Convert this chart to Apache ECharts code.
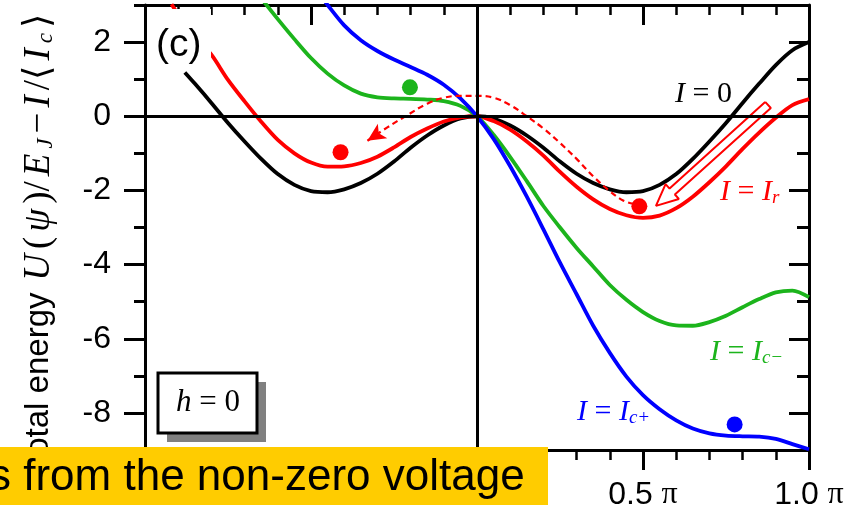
<!DOCTYPE html>
<html><head><meta charset="utf-8">
<script src="https://cdn.jsdelivr.net/npm/echarts@6.0.0/dist/echarts.min.js"></script>
<style>html,body{margin:0;padding:0;background:#fff}#c{width:866px;height:515px}</style>
</head><body><div id="c"></div>
<script>
// ---- data (phase in units of pi, energy in E_J units) ----
const blackPhase = [-0.88,-0.85,-0.80,-0.75,-0.70,-0.65,-0.60,-0.55,-0.50,-0.45,-0.40,-0.35,-0.30,-0.25,-0.20,-0.15,-0.10,-0.05,0,0.05,0.10,0.15,0.20,0.25,0.30,0.35,0.40,0.45,0.50,0.55,0.60,0.65,0.70,0.75,0.80,0.85,0.90,0.95,1.00];
const blackEnergy = [1.18,0.88,0.36,-0.18,-0.68,-1.15,-1.56,-1.85,-2.02,-2.05,-1.97,-1.80,-1.55,-1.22,-0.85,-0.52,-0.25,-0.06,0,-0.06,-0.25,-0.52,-0.85,-1.22,-1.55,-1.80,-1.97,-2.05,-2.02,-1.85,-1.56,-1.15,-0.68,-0.18,0.36,0.88,1.38,1.78,2.00];

const redPhase = [-0.92,-0.90,-0.85,-0.80,-0.75,-0.70,-0.65,-0.60,-0.55,-0.50,-0.45,-0.40,-0.35,-0.30,-0.25,-0.20,-0.15,-0.10,-0.05,0,0.05,0.10,0.15,0.20,0.25,0.30,0.35,0.40,0.45,0.50,0.55,0.60,0.65,0.70,0.75,0.80,0.85,0.90,0.95,1.00];
const redEnergy = [3.02,2.75,2.18,1.66,0.98,0.40,-0.15,-0.64,-1.00,-1.25,-1.36,-1.35,-1.26,-1.09,-0.84,-0.56,-0.33,-0.14,-0.03,0,-0.13,-0.36,-0.68,-1.06,-1.50,-1.90,-2.24,-2.50,-2.67,-2.74,-2.68,-2.48,-2.17,-1.78,-1.35,-0.88,-0.44,-0.04,0.30,0.46];

const greenPhase = [-0.65,-0.60,-0.55,-0.50,-0.45,-0.40,-0.35,-0.30,-0.25,-0.20,-0.15,-0.10,-0.05,0,0.05,0.10,0.15,0.20,0.25,0.30,0.35,0.40,0.45,0.50,0.55,0.60,0.65,0.70,0.75,0.80,0.85,0.90,0.95,1.00];
const greenEnergy = [3.18,2.62,2.08,1.57,1.15,0.83,0.61,0.51,0.48,0.47,0.45,0.41,0.28,0,-0.50,-1.10,-1.75,-2.42,-3.00,-3.55,-4.05,-4.55,-4.95,-5.28,-5.52,-5.64,-5.65,-5.55,-5.38,-5.15,-4.93,-4.75,-4.70,-4.88];

const bluePhase = [-0.47,-0.45,-0.40,-0.35,-0.30,-0.25,-0.20,-0.15,-0.10,-0.05,0,0.05,0.10,0.15,0.20,0.25,0.30,0.35,0.40,0.45,0.50,0.55,0.60,0.65,0.70,0.75,0.80,0.85,0.90,0.95,1.00];
const blueEnergy = [3.25,3.00,2.45,2.05,1.76,1.53,1.33,1.12,0.85,0.48,0,-0.61,-1.35,-2.17,-3.05,-3.95,-4.80,-5.65,-6.38,-7.02,-7.52,-7.90,-8.20,-8.42,-8.55,-8.61,-8.63,-8.64,-8.70,-8.84,-8.98];

// dashed escape path (red) and its arrow tip
const pathPhase = [-0.33,-0.27,-0.21,-0.15,-0.10,-0.05,0,0.05,0.10,0.15,0.20,0.25,0.30,0.35,0.40,0.44,0.47];
const pathEnergy = [-0.66,-0.30,0.03,0.34,0.50,0.55,0.55,0.50,0.30,0.00,-0.33,-0.72,-1.15,-1.62,-2.02,-2.27,-2.36];

// hollow arrow outline near the right well
const hollowPhase = [0.868,0.580,0.568,0.539,0.608,0.596,0.885,0.868];
const hollowEnergy = [0.386,-1.950,-1.831,-2.418,-2.230,-2.111,0.224,0.386];

// particle markers
const redDots = [[-0.411,-0.97],[0.489,-2.43]];
const greenDots = [[-0.202,0.78]];
const blueDots = [[0.776,-8.31]];

const xTickLabels = {'-1':'-1.0','-0.5':'-0.5','0':'0','0.5':'0.5','1':'1.0'};

const zip = (a,b) => a.map((v,i) => [v,b[i]]);
const SANS = '"Liberation Sans", Arial, sans-serif';
const SERIF = '"Liberation Serif", "DejaVu Serif", serif';
const RED = '#ff0000', GREEN = '#1cb41c', BLUE = '#0000ff';

function richSet(color, size, pad){
  const p = pad || 0;
  return {
    i:{fontFamily:SERIF, fontStyle:'italic', fontSize:size, color:color, fill:color, padding:[0,p]},
    n:{fontFamily:SERIF, fontSize:size, color:color, fill:color, padding:[0,p]},
    b:{fontFamily:SERIF, fontStyle:'italic', fontSize:Math.round(size*0.62), color:color, fill:color, verticalAlign:'bottom', padding:[0,p]},
    s:{fontFamily:SANS, fontSize:33, color:color, fill:color}
  };
}
function label(x, y, text, color){
  return {type:'text', x:x, y:y, z:60,
    style:{text:text, rich:richSet(color,30), fill:color, align:'left', textAlign:'left', verticalAlign:'middle', textVerticalAlign:'middle'}};
}

const lineBase = {type:'line', showSymbol:false, smooth:0.3, z:3, xAxisIndex:0, yAxisIndex:0};
const axisLineStyle = {show:true, onZero:false, lineStyle:{color:'#000', width:3}};
const noLine = {show:false, onZero:false};

const chart = echarts.init(document.getElementById('c'));
chart.setOption({
  animation:false,
  backgroundColor:'#fff',
  grid:{left:145, right:57, top:5, bottom:65},
  xAxis:[
    {type:'value', position:'bottom', min:-1, max:1, interval:0.5,
     axisLine:axisLineStyle,
     axisTick:{show:true, inside:false, length:20, lineStyle:{color:'#000', width:3}},
     minorTick:{show:true, splitNumber:5, length:10, lineStyle:{color:'#000', width:2.5}},
     splitLine:{show:false},
     axisLabel:{margin:29, formatter:v => { const t = xTickLabels[String(v)]; return t==='0' ? '{a|0}' : '{a|'+t+' }{p|π}'; },
       rich:{a:{fontFamily:SANS, fontSize:32, color:'#000'}, p:{fontFamily:SERIF, fontSize:32, color:'#000'}}}},
    {type:'value', position:'top', min:-1, max:1, interval:0.5,
     axisLine:axisLineStyle,
     axisTick:{show:true, inside:true, length:20, lineStyle:{color:'#000', width:3}},
     minorTick:{show:true, splitNumber:5, length:10, lineStyle:{color:'#000', width:2.5}},
     splitLine:{show:false}, axisLabel:{show:false}}
  ],
  yAxis:[
    {type:'value', position:'left', min:-9, max:3, splitNumber:6,
     axisLine:axisLineStyle,
     axisTick:{show:true, inside:false, length:21, lineStyle:{color:'#000', width:3}},
     splitLine:{show:false},
     axisLabel:{margin:34, showMinLabel:false, showMaxLabel:false, fontFamily:SANS, fontSize:32, color:'#000'}},
    {type:'value', position:'left', min:-9, max:3, interval:1,
     axisLine:noLine,
     axisTick:{show:true, inside:false, length:11, lineStyle:{color:'#000', width:3}},
     splitLine:{show:false}, axisLabel:{show:false}},
    {type:'value', position:'right', min:-9, max:3, splitNumber:6,
     axisLine:axisLineStyle,
     axisTick:{show:true, inside:true, length:20, lineStyle:{color:'#000', width:3}},
     splitLine:{show:false}, axisLabel:{show:false}},
    {type:'value', position:'right', min:-9, max:3, interval:1,
     axisLine:noLine,
     axisTick:{show:true, inside:true, length:12, lineStyle:{color:'#000', width:3}},
     splitLine:{show:false}, axisLabel:{show:false}}
  ],
  series:[
    {type:'line', data:[], z:1, silent:true,
     markLine:{silent:true, symbol:['none','none'], label:{show:false},
       lineStyle:{color:'#000', width:3, type:'solid'},
       data:[{yAxis:0},{xAxis:0}]}},
    Object.assign({}, lineBase, {name:'I=0', data:zip(blackPhase,blackEnergy), lineStyle:{color:'#000', width:3.8}, itemStyle:{color:'#000'}}),
    Object.assign({}, lineBase, {name:'I=Ir', data:zip(redPhase,redEnergy), lineStyle:{color:RED, width:3.8}, itemStyle:{color:RED}}),
    Object.assign({}, lineBase, {name:'I=Ic-', data:zip(greenPhase,greenEnergy), lineStyle:{color:GREEN, width:3.8}, itemStyle:{color:GREEN}}),
    Object.assign({}, lineBase, {name:'I=Ic+', data:zip(bluePhase,blueEnergy), lineStyle:{color:BLUE, width:3.8}, itemStyle:{color:BLUE}}),
    Object.assign({}, lineBase, {name:'escape', smooth:0.4, data:zip(pathPhase,pathEnergy), lineStyle:{color:RED, width:2.2, type:[6,4]}}),
    Object.assign({}, lineBase, {name:'hollow', smooth:false, data:zip(hollowPhase,hollowEnergy), lineStyle:{color:RED, width:2}}),
    {type:'scatter', z:4, data:[[pathPhase[0], pathEnergy[0]]], symbol:'arrow', symbolSize:[13,18], symbolRotate:123, itemStyle:{color:RED, opacity:1}},
    {type:'scatter', z:5, data:redDots, symbolSize:16, itemStyle:{color:RED, opacity:1}},
    {type:'scatter', z:5, data:greenDots, symbolSize:16, itemStyle:{color:GREEN, opacity:1}},
    {type:'scatter', z:5, data:blueDots, symbolSize:16, itemStyle:{color:BLUE, opacity:1}}
  ],
  graphic:[
    {type:'text', z:40, x:39, y:238, rotation:Math.PI/2,
     style:{text:'{s|total energy }{i|U}{n|(}{i|ψ}{n|)/}{i|E}{b|J}{n|−}{i|I}{n|/⟨}{i|I}{b|c}{n|⟩}',
       rich:richSet('#000',37,2.5), align:'center', textAlign:'center', verticalAlign:'middle', textVerticalAlign:'middle'}},
    {type:'rect', z:50, shape:{x:149, y:9, width:62, height:60}, style:{fill:'#fff'}},
    {type:'text', z:51, x:156, y:45, style:{text:'(c)', font:'39px '+SANS, fill:'#000', verticalAlign:'middle', textVerticalAlign:'middle'}},
    {type:'rect', z:50, shape:{x:167, y:382, width:99, height:60}, style:{fill:'#808080'}},
    {type:'rect', z:51, shape:{x:158, y:373, width:99, height:60}, style:{fill:'#fff', stroke:'#000', lineWidth:3}},
    {type:'text', z:52, x:208, y:403, style:{text:'{i|h}{n| = 0}', rich:richSet('#000',31), align:'center', textAlign:'center', verticalAlign:'middle', textVerticalAlign:'middle'}},
    label(675, 94, '{i|I}{n| = 0}', '#000'),
    label(720, 192, '{i|I}{n| = }{i|I}{b|r}', RED),
    label(710, 352, '{i|I}{n| = }{i|I}{b|c−}', GREEN),
    label(577, 412, '{i|I}{n| = }{i|I}{b|c+}', BLUE),
    {type:'rect', z:200, shape:{x:0, y:447, width:548, height:58}, style:{fill:'#ffcc00'}},
    {type:'text', z:201, x:-11, y:478, style:{text:'s from the non-zero voltage', font:'44px '+SANS, fill:'#000', verticalAlign:'middle', textVerticalAlign:'middle'}}
  ]
});
</script></body></html>
